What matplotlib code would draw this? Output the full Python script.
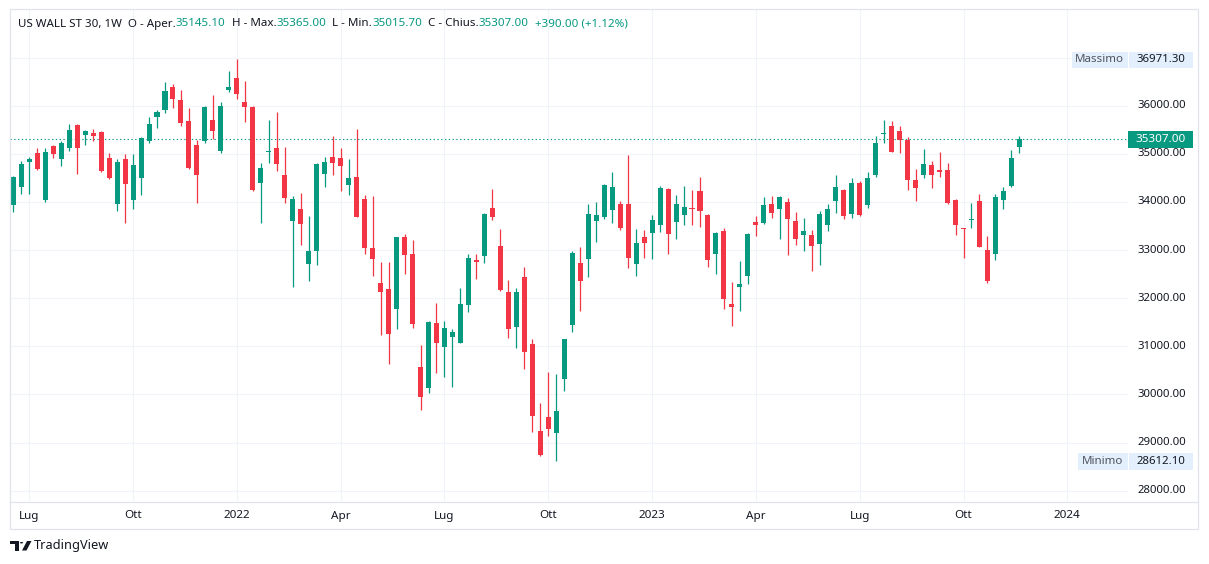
import matplotlib
matplotlib.use('Agg')
import matplotlib.pyplot as plt
import numpy as np
import pandas as pd
from matplotlib.patches import Rectangle, Polygon, Circle

W, H = 1209, 564
DPI = 100
FONT = 'Noto Sans'
GREEN = '#089981'
RED = '#F23645'
TXT = '#131722'
GRID = '#f0f3fa'
BORDER = '#e0e3eb'

# ---------------- data (weekly OHLC, US WALL ST 30) ----------------
first_week = '2021-06-21'
opens = [33931, 34305, 34824, 35024, 34035, 35170, 34886, 35114, 35606, 35384,
         35440, 35460, 34920, 33952, 34900, 34035, 34491, 35260, 35758, 35903,
         36394, 36125, 35689, 35190, 35260, 35709, 35052, 36318, 36581, 36083,
         35979, 34388, 35040, 35128, 34568, 33599, 33862, 32706, 32976, 34574,
         34941, 34920, 34346, 34522, 34064, 33046, 32318, 32193, 31784, 33274,
         32921, 30572, 30142, 31488, 30995, 31203, 31078, 31849, 32799, 32869,
         33882, 33091, 32133, 31411, 32445, 31051, 29239, 29531, 29205, 30329,
         31453, 32738, 32807, 33598, 33681, 33827, 33966, 33966, 32703, 33279,
         33348, 33515, 34278, 33577, 33723, 33883, 34237, 33737, 32911, 33404,
         31884, 32237, 32466, 33584, 33570, 33958, 33861, 34000, 33604, 33320,
         33313, 33132, 33528, 34028, 34250, 33757, 34396, 33944, 34570, 35420,
         35583, 35479, 35291, 34459, 34570, 34771, 34667, 34667, 34042, 33445,
         33620, 34021, 33001, 32925, 34049, 34334, 35145.1]
highs = [34547, 34858, 34927, 35128, 35128, 35190, 35273, 35626, 35615, 35502,
         35523, 35470, 35024, 34900, 35004, 35004, 35340, 35772, 35917, 36498,
         36443, 36332, 35958, 35294, 36000, 36228, 36083, 36727, 36971.3, 36519,
         36000, 34817, 35709, 35875, 35149, 34118, 34180, 33702, 34800, 34941,
         35377, 35128, 34900, 35520, 34148, 34127, 32755, 32755, 33280, 33337,
         33212, 31036, 31528, 31904, 31529, 31363, 32216, 32924, 32924, 33760,
         34278, 33445, 32369, 32216, 32654, 31155, 29822, 30475, 30426, 31160,
         32973, 33071, 33966, 34008, 34365, 34632, 34028, 34965, 33445, 33425,
         33737, 34341, 34299, 34153, 34341, 34257, 34528, 33758, 33383, 33466,
         32342, 32772, 33355, 33709, 34104, 34125, 34125, 34083, 33792, 33667,
         33424, 33813, 33958, 34562, 34260, 34500, 34437, 34625, 35375, 35708,
         35687, 35583, 35354, 34688, 35104, 34854, 35042, 34813, 34063, 33452,
         33980, 34167, 33293, 34167, 34313, 35083, 35365.0]
lows = [33786, 34159, 34159, 34670, 33993, 34907, 34741, 35052, 34574, 35177,
        35260, 34616, 34480, 33806, 33557, 33848, 34139, 35218, 35529, 35841,
        35945, 35571, 34692, 33972, 35218, 35301, 35010, 36277, 36131, 35654,
        34230, 33557, 34803, 34637, 33972, 32229, 33100, 32353, 32685, 34305,
        34554, 34222, 34139, 33690, 32928, 32470, 31244, 30641, 31369, 32512,
        31389, 29671, 30038, 30454, 30370, 30162, 31070, 31703, 32390, 32723,
        33618, 32150, 31182, 30974, 30537, 29225, 28726, 29142, 28612.1, 30079,
        31307, 31724, 32432, 33161, 33640, 33556, 33411, 32620, 32453, 32828,
        32807, 33369, 32911, 33223, 33515, 33515, 33473, 32640, 32495, 31766,
        31412, 31738, 32300, 33299, 33549, 33674, 33237, 32903, 33112, 32987,
        32570, 32695, 33403, 33778, 33653, 33674, 33715, 33882, 34528, 35215,
        35028, 35007, 34257, 34028, 34507, 34299, 34528, 33966, 33320, 32842,
        33466, 33060, 32321, 32800, 33862, 34313, 35015.7]
closes = [34526, 34796, 34900, 34678, 35045, 34990, 35232, 35502, 35114, 35481,
          35363, 34637, 34491, 34837, 34367, 34775, 35336, 35626, 35875, 36311,
          36131, 35633, 34713, 34554, 35979, 35467, 36000, 36394, 36235, 35965,
          34242, 34713, 35050, 34782, 34076, 34055, 33536, 32976, 34796, 34837,
          34803, 34741, 34505, 33697, 33053, 32824, 32138, 31265, 33274, 32907,
          31473, 29941, 31514, 31078, 31384, 31300, 31883, 32841, 32744, 33757,
          33681, 32161, 31370, 32133, 30891, 29558, 28746, 29288, 29656, 31155,
          32945, 32349, 33758, 33737, 34362, 34320, 33452, 32828, 33154, 33140,
          33633, 34299, 33327, 33966, 33903, 33848, 33806, 32786, 33362, 31974,
          31808, 32286, 33334, 33528, 33938, 33778, 34104, 33653, 33237, 33396,
          33091, 33757, 33854, 34312, 33715, 34396, 33736, 34500, 35229, 35435,
          35042, 35278, 34466, 34299, 34792, 34570, 34632, 33987, 33529, 33431,
          33632, 33071, 32363, 34105, 34230, 34917, 35307.0]

tick_dates = ['2021-07-05', '2021-10-04', '2022-01-03', '2022-04-04', '2022-07-04',
              '2022-10-03', '2023-01-02', '2023-04-03', '2023-07-03', '2023-10-02',
              '2024-01-01']
tick_labels = ['Lug', 'Ott', '2022', 'Apr', 'Lug', 'Ott', '2023', 'Apr', 'Lug', 'Ott', '2024']
price_ticks = [28000, 29000, 30000, 31000, 32000, 33000, 34000, 35000, 36000]
grid_levels = [28000, 29000, 30000, 31000, 32000, 33000, 34000, 35000, 36000, 37000]

# ---------------- figure ----------------
o = np.array(opens, float); h = np.array(highs, float)
l = np.array(lows, float); c = np.array(closes, float)
x = np.arange(len(o))
cols = [GREEN if cc >= oo else RED for oo, cc in zip(o, c)]

fig = plt.figure(figsize=(W / DPI, H / DPI), dpi=DPI)
fig.patch.set_facecolor('white')

def fx(px):
    return px / W

def fy(py):
    return 1 - py / H

ax_l, ax_r, ax_t, ax_b = 10, 1128, 9, 501
ax = fig.add_axes([fx(ax_l), fy(ax_b), (ax_r - ax_l) / W, (ax_b - ax_t) / H])
ax.set_xlim(-0.41, 139.6)
ax.set_ylim(27786, 38009)
for s in ax.spines.values():
    s.set_visible(False)
ax.set_xticks([]); ax.set_yticks([])

t0 = pd.Timestamp(first_week)
tick_pos = [(pd.Timestamp(d) - t0).days / 7 for d in tick_dates]

for v in grid_levels:
    ax.axhline(v, color=GRID, lw=0.8, zorder=0)
for p in tick_pos:
    ax.axvline(p, color=GRID, lw=0.8, zorder=0)

ax.vlines(x, l, h, colors=cols, lw=0.9, zorder=2)
body = np.maximum(np.abs(c - o), 22)
ax.bar(x, body, bottom=np.minimum(o, c), width=0.63, color=cols, lw=0, zorder=3)

last = c[-1]
ax.axhline(last, color=GREEN, lw=0.8, linestyle=(0, (1.2, 2.2)), zorder=1)

# ---------------- borders ----------------
fig.add_artist(Rectangle((fx(9.5), fy(529)), (1198 - 9.5) / W, (529 - 9) / H,
                         transform=fig.transFigure, fill=False, ec=BORDER, lw=0.9))
fig.add_artist(plt.Line2D([fx(9.5), fx(1198)], [fy(501.5), fy(501.5)],
                          transform=fig.transFigure, color=BORDER, lw=0.9))

# ---------------- axis labels ----------------
def data_to_px(xd, yd):
    X, Y = ax.transData.transform((xd, yd))
    return X, H - Y

for p, lab in zip(tick_pos, tick_labels):
    px, _ = data_to_px(p, 30000)
    bold = lab.isdigit()
    fig.text(fx(px), fy(516), lab, ha='center', va='center', fontsize=8.4,
             color=TXT, family=FONT, fontweight='bold' if bold else 'normal')

for v in price_ticks:
    _, py = data_to_px(0, v)
    fig.text(fx(1162), fy(py), f'{v:.2f}', ha='center', va='center', fontsize=8.2,
             color=TXT, family=FONT, zorder=2)

# Massimo / Minimo labels
def hl_label(name, value, y_px, left_px):
    fig.add_artist(Rectangle((fx(left_px), fy(y_px + 8.3)), (1127.5 - left_px) / W, 16.6 / H,
                             transform=fig.transFigure, fc='#e3effd', ec='none', zorder=4))
    fig.add_artist(Rectangle((fx(1128.5), fy(y_px + 8.3)), (1193.3 - 1128.5) / W, 16.6 / H,
                             transform=fig.transFigure, fc='#e3effd', ec='none', zorder=4))
    fig.text(fx((left_px + 1127.5) / 2), fy(y_px), name, ha='center', va='center',
             fontsize=8.3, color='#50535e', family=FONT, zorder=5)
    fig.text(fx(1161), fy(y_px), f'{value:.2f}', ha='center', va='center',
             fontsize=8.2, color=TXT, family=FONT, zorder=5)

hl_label('Massimo', h.max(), 60, 1072)
hl_label('Minimo', l.min(), 461.5, 1078)

# last price label
_, ly = data_to_px(0, last)
fig.add_artist(Rectangle((fx(1128), fy(ly + 8.5)), (1193.3 - 1128) / W, 17 / H,
                         transform=fig.transFigure, fc=GREEN, ec='none', zorder=6))
fig.text(fx(1161), fy(ly), f'{last:.2f}', ha='center', va='center', fontsize=8.4,
         color='white', family=FONT, fontweight='bold', zorder=7)

# ---------------- header legend ----------------
chg = c[-1] - c[-2]
pct = chg / c[-2] * 100
segments = [
    ('US WALL ST 30, 1W  O - Aper.', TXT),
    (f'{o[-1]:.2f}', GREEN),
    ('  H - Max.', TXT),
    (f'{h[-1]:.2f}', GREEN),
    ('  L - Min.', TXT),
    (f'{l[-1]:.2f}', GREEN),
    ('  C - Chius.', TXT),
    (f'{c[-1]:.2f}', GREEN),
    (f'  {chg:+.2f} ({pct:+.2f}%)', GREEN),
]
renderer = fig.canvas.get_renderer()
xpos = 18
for txt, col in segments:
    t = fig.text(fx(xpos), fy(24), txt, ha='left', va='center', fontsize=8.35,
                 color=col, family=FONT)
    bb = t.get_window_extent(renderer)
    xpos += bb.width

# ---------------- TradingView logo ----------------
def pxrect(x0, y0, x1, y1, **kw):
    fig.add_artist(Rectangle((fx(x0), fy(y1)), (x1 - x0) / W, (y1 - y0) / H,
                             transform=fig.transFigure, **kw))

pxrect(10, 541, 19, 544, fc=TXT, ec='none')
pxrect(15, 541, 19, 550.5, fc=TXT, ec='none')
fig.add_artist(Circle((fx(21.5), fy(542.7)), 1.6 / W, transform=fig.transFigure,
                      fc=TXT, ec='none'))
fig.add_artist(Polygon([(fx(22), fy(550.5)), (fx(27), fy(541)), (fx(31.5), fy(541)),
                        (fx(26.5), fy(550.5))], closed=True, transform=fig.transFigure,
                       fc=TXT, ec='none'))
fig.text(fx(33.5), fy(546), 'TradingView', ha='left', va='center', fontsize=9.2,
         color=TXT, family=FONT)

fig.savefig('out.png', dpi=DPI, facecolor='white')
